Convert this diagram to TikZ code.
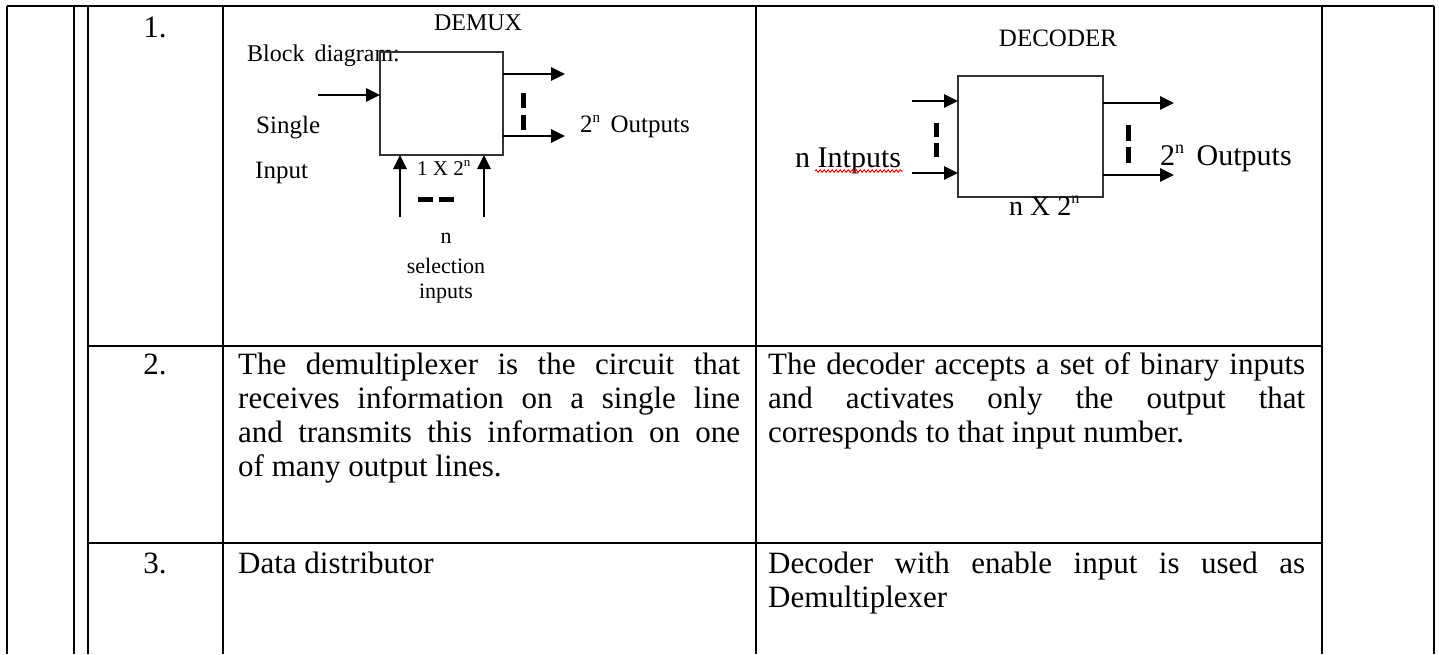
\documentclass[tikz,border=0pt]{standalone}
\usepackage{fontspec}
\setmainfont{Liberation Serif}
\usetikzlibrary{arrows.meta,decorations.pathmorphing}
\newcommand{\supn}[1]{\raisebox{0.4em}{\fontsize{#1}{#1}\selectfont n}}
\begin{document}
\begin{tikzpicture}[x=1pt,y=-1pt,
  grid/.style={line width=2.6pt,black},
  blk/.style={draw=black!80,line width=2pt,inner sep=0pt,outer sep=0pt},
  arr/.style={line width=2.8pt,-{Triangle[length=14pt,width=13pt]}},
  dsh/.style={line width=5pt,dash pattern=on 15pt off 7pt},
  body/.style={inner sep=0pt,anchor=base west,font=\fontsize{31}{34}\selectfont},
  num/.style={inner sep=0pt,anchor=base,font=\fontsize{31}{34}\selectfont},
  sm/.style={inner sep=0pt,font=\fontsize{#1}{#1}\selectfont},
]
\useasboundingbox (0,0) rectangle (1439,654);
\fill[white] (0,0) rectangle (1439,654);

% ---------- table grid ----------
\draw[grid] (7,6) -- (1434,6);
\foreach \x in {7,74,88,223,756,1322,1434}
  \draw[grid] (\x,6) -- (\x,654);
\draw[grid] (88,346) -- (1322,346);
\draw[grid] (88,543) -- (1322,543);

% ---------- row numbers ----------
\node[num] (n1) at (155,37) {1.};
\node[num] (n2) at (155,374) {2.};
\node[num] (n3) at (155,573) {3.};

% ---------- DEMUX block diagram ----------
\node[sm=24,anchor=base] (demuxt) at (478,30) {DEMUX};
\node[sm=24,anchor=base west] (blockt) at (247,61) {Block\, diagram:};
\node[blk,minimum width=123pt,minimum height=103pt] (dmx) at (441.5,103.5) {};
\node[sm=25,anchor=base west] (single) at (256,133) {Single};
\node[sm=25,anchor=base west] (inputt) at (255,178) {Input};
\coordinate (din) at (318,95);
\draw[arr] (din) -- (din -| dmx.west);
\coordinate (dout1) at (565,74);
\coordinate (dout2) at (565,136);
\draw[arr] (dout1 -| dmx.east) -- (dout1);
\draw[arr] (dout2 -| dmx.east) -- (dout2);
\coordinate (dd1) at (523,93);
\coordinate (dd2) at (523,130);
\draw[dsh] (dd1) -- (dd2);
\node[sm=25,anchor=base west] (dmxout) at (580,132) {2\supn{15}\, Outputs};
\coordinate (ds1) at (400,217);
\coordinate (ds2) at (484,217);
\draw[arr] (ds1) -- (ds1 |- dmx.south);
\draw[arr] (ds2) -- (ds2 |- dmx.south);
\node[sm=21,anchor=base west] (dsize) at (417,175) {1 X 2\supn{13}};
\coordinate (dh1) at (418,199);
\coordinate (dh2) at (457,199);
\draw[dsh,dash pattern=on 15pt off 6pt] (dh1) -- (dh2);
\node[sm=22,anchor=base] (seln) at (446,243) {n};
\node[sm=22,anchor=base] (sels) at (446,273) {selection};
\node[sm=22,anchor=base] (seli) at (446,298) {inputs};

% ---------- DECODER block diagram ----------
\node[sm=25,anchor=base] (dect) at (1058,46) {DECODER};
\node[blk,minimum width=145pt,minimum height=121pt] (dec) at (1030.5,136.5) {};
\coordinate (ci1) at (912,101);
\coordinate (ci2) at (912,173);
\draw[arr] (ci1) -- (ci1 -| dec.west);
\draw[arr] (ci2) -- (ci2 -| dec.west);
\coordinate (co1) at (1174,103);
\coordinate (co2) at (1174,175);
\draw[arr] (co1 -| dec.east) -- (co1);
\draw[arr] (co2 -| dec.east) -- (co2);
\coordinate (cd1) at (936,123);
\coordinate (cd2) at (936,163);
\draw[dsh,dash pattern=on 14pt off 6pt] (cd1) -- (cd2);
\coordinate (ce1) at (1128,125);
\coordinate (ce2) at (1128,167);
\draw[dsh,dash pattern=on 16pt off 6pt] (ce1) -- (ce2);
\node[sm=30,anchor=base west] (decin) at (795,167) {n Intputs};
\draw[red,line width=1pt,decorate,decoration={snake,amplitude=1.2pt,segment length=4pt}]
  (815,171) -- (903,171);
\node[sm=30,anchor=base west] (decout) at (1160,165) {2\supn{18}\, Outputs};
\node[sm=28,anchor=base west] (decsize) at (1009,215) {n X 2\supn{16}};

% ---------- row 2 ----------
\node[body] (a1) at (238,374) {\makebox[502pt][s]{The demultiplexer is the circuit that}};
\node[body] (a2) at (238,408) {\makebox[502pt][s]{receives information on a single line}};
\node[body] (a3) at (238,442) {\makebox[502pt][s]{and transmits this information on one}};
\node[body] (a4) at (238,476) {of many output lines.};
\node[body] (b1) at (768,374) {\makebox[537pt][s]{The decoder accepts a set of binary inputs}};
\node[body] (b2) at (768,408) {\makebox[537pt][s]{and activates only the output that}};
\node[body] (b3) at (768,442) {corresponds to that input number.};

% ---------- row 3 ----------
\node[body] (c1) at (238,573) {Data distributor};
\node[body] (d1) at (768,573) {\makebox[537pt][s]{Decoder with enable input is used as}};
\node[body] (d2) at (768,607) {Demultiplexer};
\end{tikzpicture}
\end{document}
